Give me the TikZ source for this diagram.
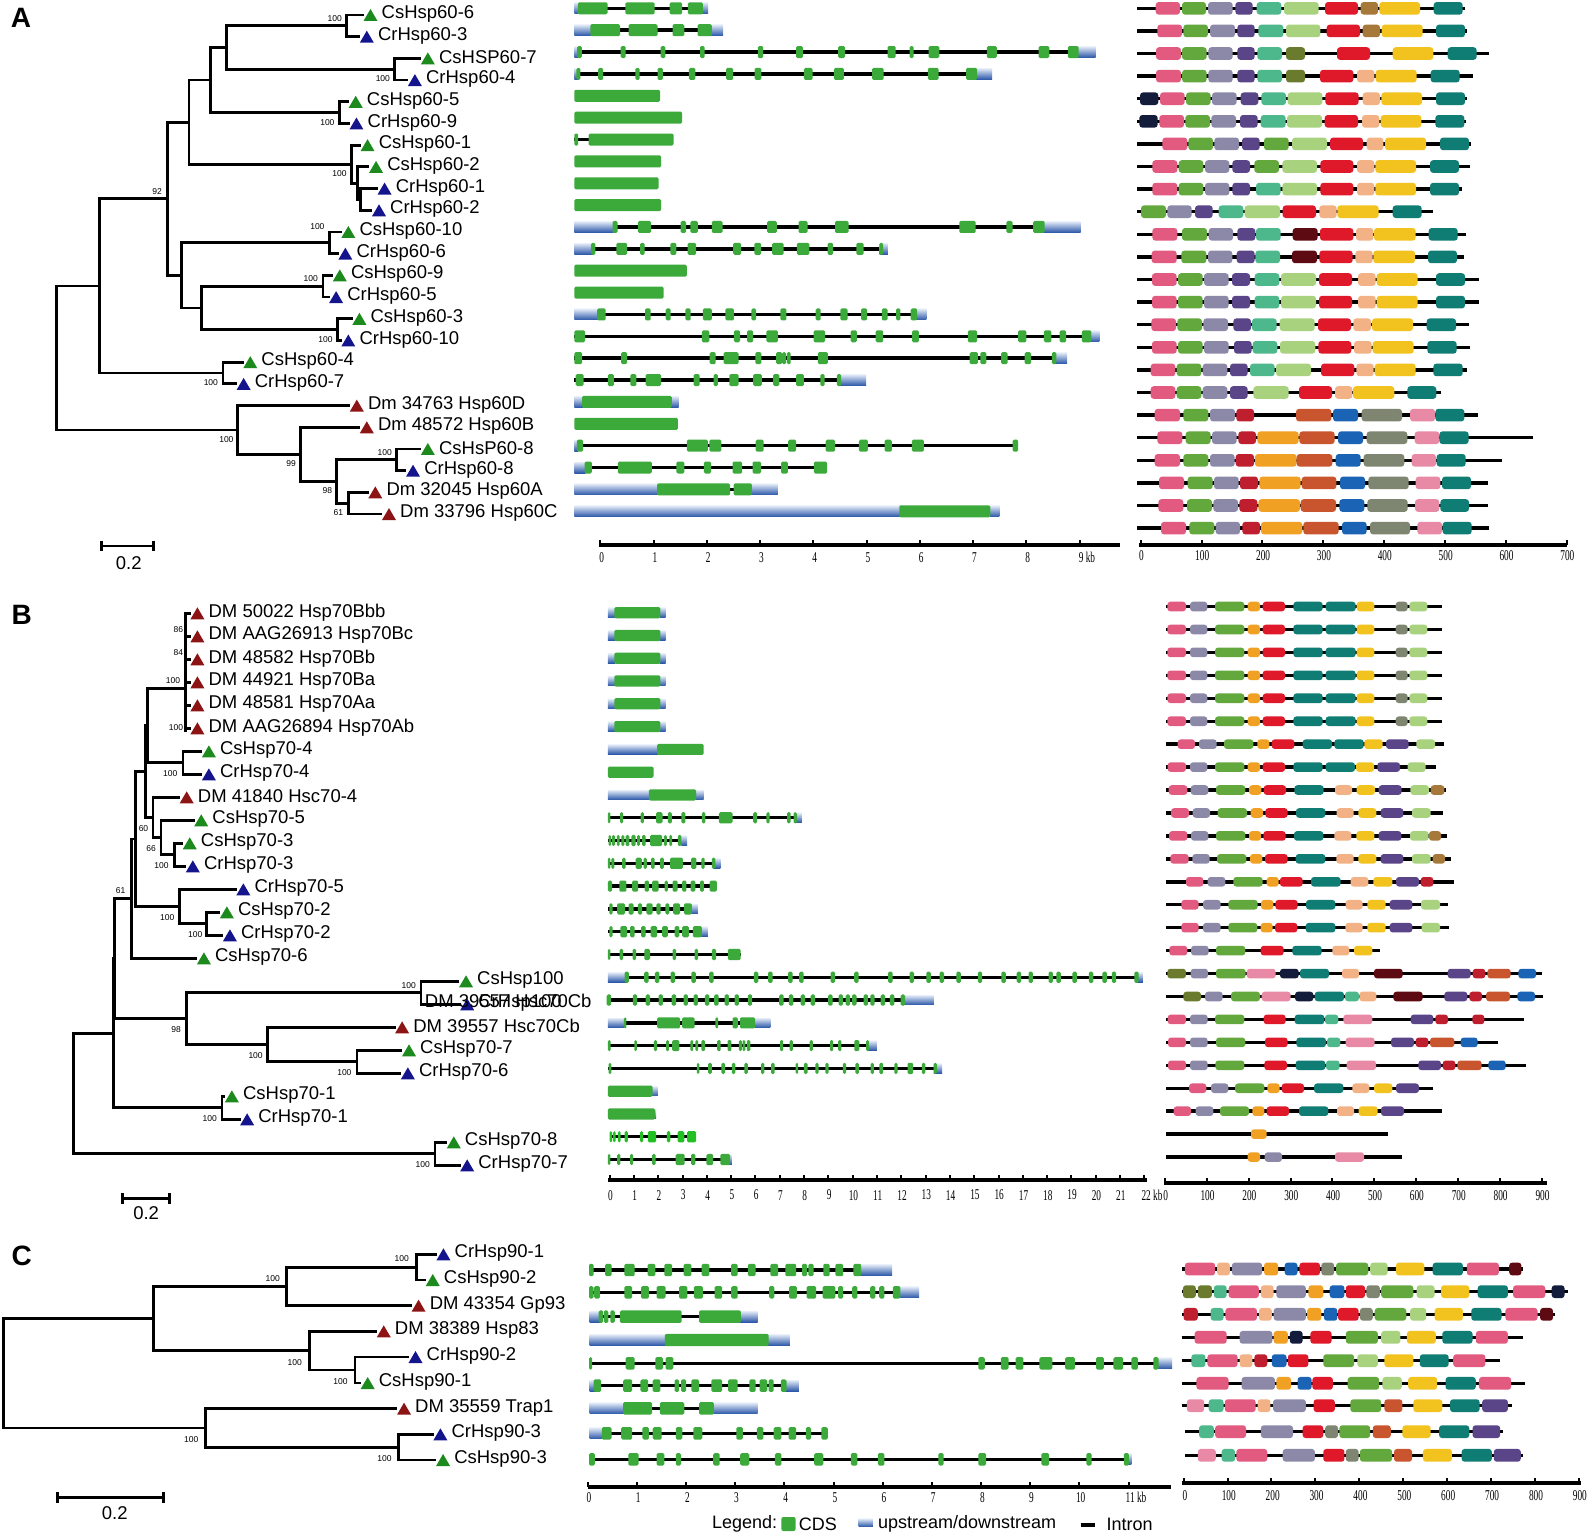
\documentclass[tikz,border=0pt]{standalone}
\usepackage{fontspec}
\setmainfont{Liberation Sans}
\newfontfamily\serifax{Liberation Serif}
\definecolor{tg}{HTML}{1C8A1C}
\definecolor{tb}{HTML}{14148C}
\definecolor{tr}{HTML}{8C1414}
\definecolor{exg}{HTML}{3BAA3B}
\definecolor{exb}{HTML}{22C022}
\definecolor{utrtop}{HTML}{E2EAF7}
\definecolor{utrbot}{HTML}{2A56A8}
\definecolor{cpk}{HTML}{E25A80}
\definecolor{cgn}{HTML}{62A83C}
\definecolor{cgy}{HTML}{8C89A8}
\definecolor{cpu}{HTML}{5A4589}
\definecolor{caq}{HTML}{4DB88C}
\definecolor{clg}{HTML}{A8D27E}
\definecolor{crd}{HTML}{E0192A}
\definecolor{cbn}{HTML}{A6783A}
\definecolor{cye}{HTML}{F2C31F}
\definecolor{ctl}{HTML}{0F7D73}
\definecolor{col}{HTML}{6A7B2E}
\definecolor{cpe}{HTML}{F2B285}
\definecolor{cnv}{HTML}{141C3C}
\definecolor{cmr}{HTML}{5E0A12}
\definecolor{ccr}{HTML}{BE1E2D}
\definecolor{cog}{HTML}{F0A022}
\definecolor{cru}{HTML}{C9552F}
\definecolor{cbl}{HTML}{1B63B5}
\definecolor{cgg}{HTML}{7E8570}
\definecolor{clp}{HTML}{E88AA6}
\newcommand\ax[1]{\scalebox{0.62}[1]{#1}}
\newcounter{bsn}
\tikzset{
  branch/.style={line width=2.8pt, line cap=rect, line join=miter},
  lab/.style={anchor=west, inner sep=0pt, font=\fontsize{18.5}{20}\selectfont},
  bs/.style={inner sep=0pt, font=\fontsize{8.5}{9}\selectfont},
  intr/.style={line width=3.4pt},
  exon/.style={fill=exg, rounded corners=1.4pt},
  utr/.style={top color=utrtop, bottom color=utrbot},
  mbox/.style={rounded corners=3pt},
  axline/.style={line width=4pt},
  tick/.style={line width=2pt},
  axl/.style={inner sep=0pt, font=\serifax\fontsize{15}{16}\selectfont},
  plab/.style={inner sep=0pt, font=\bfseries\fontsize{28}{30}\selectfont},
}
\newcommand\clade[5]{\draw[branch] (#2,#3) -- (#1,#3) -- (#1,#5) -- (#4,#5);}
\newcommand\leaf[5]{%
  \fill[#3] ([xshift=1pt,yshift=-6pt]#1,#2) -- ++(14pt,0pt) -- ++(-7pt,12pt) -- cycle;
  \node[lab] (#4) at ([xshift=19pt,yshift=1pt]#1,#2) {#5};}
\newcommand\bsl[3]{\stepcounter{bsn}\node[bs] (bs\arabic{bsn}) at (#1,#2) {#3};}
\newcommand\gl[3]{\draw[intr] (#2,#1) -- (#3,#1);}
\newcommand\ut[3]{\shade[utr] ([yshift=\uh]#2,#1) rectangle ([yshift=-\uh]#3,#1);}
\newcommand\exs[2]{\foreach \xa/\xb in {#2}{\path[exon] ([yshift=\eh]\xa,#1) rectangle ([yshift=-\eh]\xb,#1);}}
\newcommand\sxs[2]{\foreach \xc in {#2}{\path[exon] ([xshift=-2.2pt,yshift=\eh]\xc,#1) rectangle ([xshift=2.2pt,yshift=-\eh]\xc,#1);}}
\newcommand\mrow[4]{\draw[intr] (#2,#1) -- (#3,#1);
  \foreach \xa/\xb/\mc in {#4}{\path[fill=\mc,mbox] ([yshift=\mh]\xa,#1) rectangle ([yshift=-\mh]\xb,#1);}}
\begin{document}
\begin{tikzpicture}[x=1pt,y=-1pt]
\path[use as bounding box, fill=white] (0,0) rectangle (1589,1538);

%%%%%%%%%%%%%%%% TREE A
\begin{scope}[x=0.369898pt,y=-0.333333pt]
\node[plab] (pA) at (57,55) {A};
\clade{937}{980}{45}{970}{110.1}
\clade{1067}{1135}{175.2}{1100}{240.3}
\clade{613}{937}{77.6}{1067}{207.8}
\clade{918}{940}{305.4}{942}{370.5}
\clade{568}{613}{142.7}{918}{338}
\clade{975}{1018}{565.8}{1003}{630.9}
\clade{967}{995}{500.7}{975}{598.4}
\clade{950}{972}{435.6}{967}{549.5}
\clade{511}{568}{240.3}{950}{492.6}
\clade{890}{920}{696}{912}{761.1}
\clade{873}{897}{826.2}{887}{891.3}
\clade{912}{950}{956.4}{920}{1021.5}
\clade{545}{873}{858.7}{912}{989}
\clade{490}{890}{728.6}{545}{923.9}
\clade{453}{511}{366.4}{490}{826.2}
\clade{603}{655}{1086.6}{637}{1151.7}
\clade{268}{453}{596.3}{603}{1119.2}
\clade{1072}{1135}{1347}{1095}{1412.1}
\clade{942}{993}{1477.2}{1030}{1542.3}
\clade{910}{1072}{1379.6}{942}{1509.8}
\clade{812}{970}{1281.9}{910}{1444.7}
\clade{643}{943}{1216.8}{812}{1363.3}
\clade{153}{268}{857.8}{643}{1290}
\leaf{980}{45}{tg}{a0}{CsHsp60-6}
\leaf{970}{110.1}{tb}{a1}{CrHsp60-3}
\leaf{1135}{175.2}{tg}{a2}{CsHSP60-7}
\leaf{1100}{240.3}{tb}{a3}{CrHsp60-4}
\leaf{940}{305.4}{tg}{a4}{CsHsp60-5}
\leaf{942}{370.5}{tb}{a5}{CrHsp60-9}
\leaf{972}{435.6}{tg}{a6}{CsHsp60-1}
\leaf{995}{500.7}{tg}{a7}{CsHsp60-2}
\leaf{1018}{565.8}{tb}{a8}{CrHsp60-1}
\leaf{1003}{630.9}{tb}{a9}{CrHsp60-2}
\leaf{920}{696}{tg}{a10}{CsHsp60-10}
\leaf{912}{761.1}{tb}{a11}{CrHsp60-6}
\leaf{897}{826.2}{tg}{a12}{CsHsp60-9}
\leaf{887}{891.3}{tb}{a13}{CrHsp60-5}
\leaf{950}{956.4}{tg}{a14}{CsHsp60-3}
\leaf{920}{1021.5}{tb}{a15}{CrHsp60-10}
\leaf{655}{1086.6}{tg}{a16}{CsHsp60-4}
\leaf{637}{1151.7}{tb}{a17}{CrHsp60-7}
\leaf{943}{1216.8}{tr}{a18}{Dm 34763 Hsp60D}
\leaf{970}{1281.9}{tr}{a19}{Dm 48572 Hsp60B}
\leaf{1135}{1347}{tg}{a20}{CsHsP60-8}
\leaf{1095}{1412.1}{tb}{a21}{CrHsp60-8}
\leaf{993}{1477.2}{tr}{a22}{Dm 32045 Hsp60A}
\leaf{1030}{1542.3}{tr}{a23}{Dm 33796 Hsp60C}
\bsl{905}{55}{100}
\bsl{1035}{237}{100}
\bsl{885}{368}{100}
\bsl{918}{522}{100}
\bsl{425}{575}{92}
\bsl{858}{680}{100}
\bsl{840}{835}{100}
\bsl{880}{1018}{100}
\bsl{570}{1147}{100}
\bsl{612}{1320}{100}
\bsl{787}{1390}{99}
\bsl{1040}{1358}{100}
\bsl{885}{1473}{98}
\bsl{915}{1538}{61}
\draw[line width=2.5pt] (275,1638) -- (415,1638);
\draw[line width=2.5pt] (275,1622) -- (275,1654);
\draw[line width=2.5pt] (415,1622) -- (415,1654);
\node[lab, anchor=center] (sA) at (348,1688) {0.2};
\end{scope}

%%%%%%%%%%%%%%%% TREE B
\begin{scope}[yshift=-580pt,x=0.38265pt,y=-0.333333pt]
\node[plab] (pB) at (57,105) {B};
\draw[branch] (485,100) -- (485,452);
\foreach \yy in {100,169,238,307,376,445} {\draw[branch] (485,\yy) -- (495,\yy);}
\clade{386}{485}{325}{478}{548.5}
\clade{478}{525}{514}{525}{583}
\clade{457}{475}{790}{483}{859}
\clade{421}{505}{721}{457}{824.5}
\clade{400}{467}{652}{421}{772.8}
\clade{380}{386}{436.8}{400}{712.4}
\clade{540}{572}{997}{580}{1066}
\clade{470}{615}{928}{540}{1031.5}
\clade{355}{380}{574.6}{470}{979.8}
\clade{343}{355}{777.2}{512}{1135}
\clade{1100}{1197}{1204}{1200}{1273}
\clade{933}{1048}{1411}{1045}{1480}
\clade{700}{1030}{1342}{933}{1445.5}
\clade{487}{1100}{1238.5}{700}{1393.8}
\clade{300}{343}{956.1}{487}{1316}
\clade{580}{585}{1549}{625}{1618}
\clade{297}{300}{1136}{580}{1583.5}
\clade{1137}{1165}{1687}{1200}{1756}
\clade{193}{297}{1359.8}{1137}{1721.5}
\leaf{495}{100}{tr}{b0}{DM 50022 Hsp70Bbb}
\leaf{495}{169}{tr}{b1}{DM AAG26913 Hsp70Bc}
\leaf{495}{238}{tr}{b2}{DM 48582 Hsp70Bb}
\leaf{495}{307}{tr}{b3}{DM 44921 Hsp70Ba}
\leaf{495}{376}{tr}{b4}{DM 48581 Hsp70Aa}
\leaf{495}{445}{tr}{b5}{DM AAG26894 Hsp70Ab}
\leaf{525}{514}{tg}{b6}{CsHsp70-4}
\leaf{525}{583}{tb}{b7}{CrHsp70-4}
\leaf{467}{652}{tr}{b8}{DM 41840 Hsc70-4}
\leaf{505}{721}{tg}{b9}{CsHsp70-5}
\leaf{475}{790}{tg}{b10}{CsHsp70-3}
\leaf{483}{859}{tb}{b11}{CrHsp70-3}
\leaf{615}{928}{tb}{b12}{CrHsp70-5}
\leaf{572}{997}{tg}{b13}{CsHsp70-2}
\leaf{580}{1066}{tb}{b14}{CrHsp70-2}
\leaf{512}{1135}{tg}{b15}{CsHsp70-6}
\leaf{1197}{1204}{tg}{b16}{CsHsp100}
\leaf{1200}{1273}{tb}{b17}{CrHsp100}
\node[lab] (b17x) at (1110,1262) {DM 39557 Hsc70Cb};
\leaf{1030}{1342}{tr}{b18}{DM 39557 Hsc70Cb}
\leaf{1048}{1411}{tg}{b19}{CsHsp70-7}
\leaf{1045}{1480}{tb}{b20}{CrHsp70-6}
\leaf{585}{1549}{tg}{b21}{CsHsp70-1}
\leaf{625}{1618}{tb}{b22}{CrHsp70-1}
\leaf{1165}{1687}{tg}{b23}{CsHsp70-8}
\leaf{1200}{1756}{tb}{b24}{CrHsp70-7}
\bsl{466}{148}{86}
\bsl{466}{217}{84}
\bsl{452}{303}{100}
\bsl{460}{442}{100}
\bsl{445}{582}{100}
\bsl{375}{745}{60}
\bsl{395}{805}{66}
\bsl{422}{857}{100}
\bsl{315}{933}{61}
\bsl{437}{1013}{100}
\bsl{510}{1065}{100}
\bsl{1068}{1217}{100}
\bsl{460}{1348}{98}
\bsl{668}{1428}{100}
\bsl{900}{1478}{100}
\bsl{548}{1615}{100}
\bsl{1105}{1753}{100}
\draw[line width=2.5pt] (320,1855) -- (443,1855);
\draw[line width=2.5pt] (320,1839) -- (320,1871);
\draw[line width=2.5pt] (443,1839) -- (443,1871);
\node[lab, anchor=center] (sB) at (382,1900) {0.2};
\end{scope}

%%%%%%%%%%%%%%%% TREE C
\begin{scope}[yshift=-1220pt,x=0.38265pt,y=-0.333333pt]
\node[plab] (pC) at (57,108) {C};
\clade{1088}{1138}{103}{1110}{180}
\clade{748}{1088}{141.5}{1073}{257}
\clade{928}{1065}{411}{940}{489}
\clade{808}{982}{334}{928}{450}
\clade{402}{748}{199}{808}{392}
\clade{1042}{1130}{643}{1137}{720}
\clade{538}{1035}{566}{1042}{681.5}
\clade{10}{402}{295.5}{538}{623.8}
\leaf{1138}{103}{tb}{c0}{CrHsp90-1}
\leaf{1110}{180}{tg}{c1}{CsHsp90-2}
\leaf{1073}{257}{tr}{c2}{DM 43354 Gp93}
\leaf{982}{334}{tr}{c3}{DM 38389 Hsp83}
\leaf{1065}{411}{tb}{c4}{CrHsp90-2}
\leaf{940}{489}{tg}{c5}{CsHsp90-1}
\leaf{1035}{566}{tr}{c6}{DM 35559 Trap1}
\leaf{1130}{643}{tb}{c7}{CrHsp90-3}
\leaf{1137}{720}{tg}{c8}{CsHsp90-3}
\bsl{1050}{117}{100}
\bsl{713}{175}{100}
\bsl{770}{427}{100}
\bsl{890}{485}{100}
\bsl{500}{658}{100}
\bsl{1005}{715}{100}
\draw[line width=2.5pt] (150,833) -- (427,833);
\draw[line width=2.5pt] (150,817) -- (150,849);
\draw[line width=2.5pt] (427,817) -- (427,849);
\node[lab, anchor=center] (sC) at (300,878) {0.2};
\end{scope}

%%%%%%%%%%%%%%%% GENES A
\begin{scope}[xshift=560pt,x=0.357143pt,y=-0.333333pt]
\def\eh{6pt}\def\uh{5.5pt}
\gl{25}{40}{415}\ut{25}{40}{52}\ut{25}{398}{415}\exs{25}{50/133,183/265,307/342,358/400}
\gl{90.6}{40}{457}\ut{90.6}{40}{88}\ut{90.6}{422}{457}\exs{90.6}{85/168,192/273,315/348,385/425}
\gl{156.2}{40}{1500}\ut{156.2}{40}{55}\ut{156.2}{1448}{1500}\exs{156.2}{48/61,170/184,282/295,392/405,554/569,661/680,779/798,917/940,979/990,1032/1062,1195/1223,1340/1370,1422/1452}
\gl{221.8}{40}{1210}\ut{221.8}{40}{50}\ut{221.8}{1165}{1210}\exs{221.8}{46/57,107/121,211/223,273/288,361/379,465/485,545/564,683/707,767/795,874/906,1030/1060,1137/1168}
\exs{287.4}{40/280}
\exs{353}{40/342}
\gl{418.6}{40}{80}\exs{418.6}{40/51,80/318}
\exs{484.2}{40/283}
\exs{549.8}{40/276}
\exs{615.4}{40/283}
\gl{681}{40}{1458}\ut{681}{40}{150}\ut{681}{1352}{1458}\exs{681}{147/161,218/255,338/353,365/386,425/455,580/607,668/693,770/808,1118/1164,1250/1267,1325/1357}
\gl{746.6}{40}{918}\ut{746.6}{40}{92}\ut{746.6}{895}{918}\exs{746.6}{87/99,158/188,224/237,309/326,357/381,485/507,544/563,594/626,663/698,749/765,830/850,894/905}
\exs{812.2}{40/355}
\exs{877.8}{40/290}
\gl{943.4}{40}{1026}\ut{943.4}{40}{108}\ut{943.4}{995}{1026}\exs{943.4}{104/128,238/254,296/310,351/366,400/425,463/487,536/549,617/634,716/730,785/805,843/860,901/917,941/953,982/1000}
\gl{1009}{40}{1510}\ut{1009}{1485}{1510}\exs{1009}{40/70,397/418,487/504,524/541,578/610,710/742,814/831,884/905,986/1005,1142/1168,1283/1306,1355/1376,1399/1417,1461/1488}
\gl{1074.6}{40}{1420}\ut{1074.6}{1385}{1420}\exs{1074.6}{40/62,171/188,419/436,458/500,547/564,605/622,622/633,635/646,722/750,1147/1170,1177/1194,1235/1253,1301/1319,1377/1390}
\gl{1140.2}{40}{857}\ut{1140.2}{780}{857}\exs{1140.2}{44/66,134/151,197/214,240/283,374/391,430/442,474/500,541/565,597/614,661/683,729/741,775/787}
\ut{1205.8}{40}{65}\ut{1205.8}{308}{332}\exs{1205.8}{62/313}
\exs{1271.4}{40/330}
\gl{1337}{40}{1283}\ut{1337}{40}{50}\exs{1337}{47/65,355/414,418/452,548/570,639/661,744/770,837/862,909/929,985/1019,1267/1283}
\gl{1402.6}{40}{748}\ut{1402.6}{40}{72}\exs{1402.6}{69/89,162/257,326/348,403/423,483/510,539/563,619/638,711/748}
\ut{1468.2}{40}{275}\ut{1468.2}{535}{610}\gl{1468.2}{470}{490}\exs{1468.2}{272/476,486/537}
\ut{1533.8}{40}{952}\ut{1533.8}{1203}{1230}\exs{1533.8}{950/1205}
\draw[axline] (110,1635) -- (1568,1635);
\foreach \k in {0,...,9} {\draw[tick] (113+149.1*\k,1635) -- ([yshift=5pt]113+149.1*\k,1635);}
\foreach \k in {0,...,8} {\node[axl] at (117+149.1*\k,1672) {\ax{\k}};}
\node[axl, anchor=west] (kbA) at (1452,1672) {\ax{9 kb}};
\end{scope}

%%%%%%%%%%%%%%%% MOTIFS A
\begin{scope}[xshift=1120pt,x=0.333333pt,y=-0.333333pt]
\def\mh{6.3pt}
\mrow{25}{52}{1035}{107/180/cpk,186/258/cgn,264/338/cgy,346/398/cpu,410/484/caq,492/596/clg,615/714/crd,722/774/cbn,778/900/cye,941/1028/ctl}
\mrow{92.8}{52}{1042}{112/186/cpk,190/264/cgn,270/345/cgy,352/404/cpu,415/490/caq,498/601/clg,620/720/crd,728/780/cbn,785/908/cye,948/1035/ctl}
\mrow{160.6}{52}{1108}{108/183/cpk,186/260/cgn,265/338/cgy,352/404/cpu,412/486/caq,498/555/col,651/750/crd,818/940/cye,983/1070/ctl}
\mrow{228.4}{52}{1058}{108/183/cpk,186/260/cgn,265/338/cgy,352/404/cpu,412/486/caq,498/555/col,600/700/crd,711/763/cpe,767/890/cye,932/1019/ctl}
\mrow{296.2}{52}{1040}{60/115/cnv,120/194/cpk,198/272/cgn,276/350/cgy,362/415/cpu,424/498/caq,503/607/clg,616/716/crd,728/780/cpe,784/906/cye,948/1035/ctl}
\mrow{364}{52}{1038}{58/113/cnv,118/192/cpk,196/270/cgn,274/348/cgy,360/413/cpu,422/497/caq,501/606/clg,614/714/crd,726/778/cpe,782/904/cye,946/1033/ctl}
\mrow{431.8}{52}{1053}{127/202/cpk,205/279/cgn,283/357/cgy,366/419/cpu,432/506/cgn,516/621/clg,630/729/crd,740/790/cpe,795/918/cye,960/1047/ctl}
\mrow{499.6}{52}{1050}{97/172/cpk,176/250/cgn,255/328/cgy,337/390/cpu,403/477/cgn,487/591/clg,601/700/crd,711/763/cpe,766/888/cye,930/1017/ctl}
\mrow{567.4}{52}{1025}{97/172/cpk,176/250/cgn,255/328/cgy,337/390/cpu,408/482/caq,487/591/clg,601/700/crd,711/763/cpe,766/888/cye,930/1017/ctl}
\mrow{635.2}{52}{940}{63/138/cgn,142/215/cgy,225/278/cpu,296/370/caq,374/480/clg,488/588/crd,598/650/cpe,652/776/cye,818/905/ctl}
\mrow{703}{52}{1037}{97/172/cpk,186/261/cgn,266/339/cgy,352/406/cpu,408/482/caq,518/593/cmr,600/700/crd,708/760/cpe,762/887/cye,926/1013/ctl}
\mrow{770.8}{52}{1033}{95/170/cpk,184/259/cgn,264/337/cgy,350/404/cpu,406/480/caq,516/591/cmr,598/698/crd,706/758/cpe,760/885/cye,924/1011/ctl}
\mrow{838.6}{52}{1077}{96/170/cpk,174/248/cgn,252/326/cgy,336/390/cpu,404/478/caq,483/588/clg,597/696/crd,714/767/cpe,770/893/cye,948/1035/ctl}
\mrow{906.4}{52}{1077}{96/170/cpk,174/248/cgn,252/326/cgy,336/390/cpu,404/478/caq,483/588/clg,597/696/crd,714/767/cpe,770/893/cye,948/1035/ctl}
\mrow{974.2}{52}{1047}{94/168/cpk,172/246/cgn,250/324/cgy,340/393/cpu,396/470/caq,479/584/clg,594/693/crd,700/753/cpe,756/879/cye,920/1008/ctl}
\mrow{1042}{52}{1050}{96/170/cpk,174/248/cgn,252/326/cgy,342/395/cpu,398/472/caq,480/586/clg,595/694/crd,702/755/cpe,758/881/cye,922/1010/ctl}
\mrow{1109.8}{52}{1042}{92/166/cpk,170/244/cgn,248/322/cgy,330/383/cpu,390/464/caq,468/573/clg,603/703/crd,709/761/cpe,764/887/cye,940/1028/ctl}
\mrow{1177.6}{52}{964}{92/166/cpk,170/244/cgn,248/322/cgy,330/383/cpu,400/506/clg,537/636/crd,645/697/cpe,699/823/cye,862/949/ctl}
\mrow{1245.4}{52}{1075}{104/180/cpk,190/265/cgn,270/345/cgy,349/402/ccr,528/634/cru,639/714/cbl,725/846/cgg,870/945/clp,946/1033/ctl}
\mrow{1313.2}{52}{1238}{112/187/cpk,197/272/cgn,276/350/cgy,355/408/ccr,412/536/cog,538/644/cru,654/729/cbl,740/862/cgg,884/958/clp,958/1046/ctl}
\mrow{1381}{52}{1146}{104/180/cpk,190/265/cgn,270/344/cgy,347/402/ccr,405/530/cog,530/637/cru,647/722/cbl,731/853/cgg,875/948/clp,950/1037/ctl}
\mrow{1448.8}{52}{1104}{117/192/cpk,203/278/cgn,282/356/cgy,360/414/ccr,418/542/cog,545/649/cru,660/735/cbl,745/866/cgg,887/961/clp,966/1053/ctl}
\mrow{1516.6}{52}{1103}{115/190/cpk,201/276/cgn,280/354/cgy,358/412/ccr,415/540/cog,542/648/cru,658/733/cbl,742/863/cgg,885/958/clp,961/1047/ctl}
\mrow{1584.4}{52}{1108}{123/198/cpk,208/283/cgn,287/360/cgy,367/420/ccr,423/547/cog,550/656/cru,666/740/cbl,750/870/cgg,892/966/clp,968/1055/ctl}
\draw[axline] (58,1635) -- (1340,1635);
\foreach \k/\t in {0/0,1/100,2/200,3/300,4/400,5/500,6/600,7/700} {
  \draw[tick] (62+182.6*\k,1635) -- ([yshift=5pt]62+182.6*\k,1635);
  \node[axl] at (64+182.6*\k,1667) {\ax{\t}};}
\end{scope}

%%%%%%%%%%%%%%%% GENES B
\begin{scope}[xshift=590pt,yshift=-580pt,x=0.357143pt,y=-0.408163pt]
\def\eh{5.6pt}\def\uh{4.8pt}
\foreach \yy in {80,135.8,191.7,247.5,303.3,359.2} {\ut{\yy}{50}{70}\ut{\yy}{195}{212}\exs{\yy}{68/197}}
\ut{415}{50}{190}\exs{415}{188/318}
\exs{470.8}{50/178}
\ut{526.6}{50}{167}\ut{526.6}{295}{318}\exs{526.6}{165/297}
\gl{582.5}{50}{593}\ut{582.5}{573}{593}\exs{582.5}{50/57,84/93,142/151,185/203,218/229,256/267,313/323,361/399,457/468,494/503,552/562,570/579}
\gl{638.3}{50}{272}\ut{638.3}{256}{272}\exs{638.3}{52/59,62/70,75/83,88/96,100/110,116/128,132/140,146/156,168/202,207/215,222/230,246/256}
\gl{694.1}{50}{365}\ut{694.1}{346}{365}\exs{694.1}{50/57,60/68,90/100,128/145,150/159,171/181,196/207,224/260,283/298,312/321,341/351}
\gl{750}{50}{355}\exs{750}{50/62,82/102,118/135,153/165,174/192,209/218,231/245,258/270,282/295,308/319,335/355}
\gl{805.8}{50}{302}\ut{805.8}{283}{302}\exs{805.8}{54/63,76/98,108/122,134/146,158/175,186/198,211/222,233/252,263/285}
\gl{861.6}{50}{330}\ut{861.6}{311}{330}\exs{861.6}{54/63,85/104,112/125,143/156,170/188,202/218,237/250,258/277,288/313}
\gl{917.5}{50}{422}\exs{917.5}{50/57,83/93,119/129,152/168,231/241,293/303,341/353,386/422}
\gl{973.3}{50}{1548}\ut{973.3}{50}{103}\ut{973.3}{1530}{1548}\sxs{973.3}{103,158,188,232,290,340,465,505,561,592,680,746,841,901,948,985,1032,1092,1158,1201,1234,1290,1312,1357,1403,1441,1467,1530}
\gl{1029.1}{50}{963}\ut{1029.1}{876}{963}\sxs{1029.1}{53,126,162,198,235,268,296,328,354,383,411,448,536,563,596,624,673,702,722,740,772,791,820,846,876}
\gl{1085}{95}{505}\ut{1085}{50}{97}\ut{1085}{460}{505}\exs{1085}{95/102,188/252,258/293,351/359,399/414,420/462}
\gl{1140.8}{50}{803}\ut{1140.8}{776}{803}\exs{1140.8}{50/58,124/131,179/188,213/221,230/250,281/289,295/303,312/322,356/366,385/396,417/425,427/435,439/449,532/541,559/568,615/624,672/681,695/704,740/754,773/781}
\gl{1196.6}{50}{986}\ut{1196.6}{963}{986}\exs{1196.6}{52/60,299/306,331/341,368/378,397/407,432/442,479/488,507/517,576/583,599/609,631/640,659/668,708/717,743/753,786/795,810/821,852/861,889/905,929/939,962/971}
\ut{1252.4}{173}{190}\exs{1252.4}{50/175}
\ut{1308.3}{178}{185}\exs{1308.3}{50/182}
\gl{1364.1}{55}{297}
\begin{scope}[exon/.style={fill=exb, rounded corners=1.4pt}]
\exs{1364.1}{55/62,65/72,78/86,97/106,140/149,162/185,215/225,245/264,272/297}
\end{scope}
\gl{1419.9}{50}{397}\ut{1419.9}{388}{397}\exs{1419.9}{50/57,76/85,112/121,174/184,240/265,283/295,326/345,365/392}
\draw[axline] (50,1470) -- (1560,1470);
\foreach \k in {0,...,22} {\draw[tick] (55+68.05*\k,1470) -- ([yshift=5pt]55+68.05*\k,1470);}
\foreach \k in {0,...,21} {\node[axl] at (57+68.05*\k,1507) {\ax{\k}};}
\node[axl, anchor=west] (kbB) at ([xshift=-3pt]1552,1507) {\ax{22 kb}};
\end{scope}

%%%%%%%%%%%%%%%% MOTIFS B
\begin{scope}[xshift=1140pt,yshift=-580pt,x=0.333333pt,y=-0.408163pt]
\def\mh{4.8pt}
\foreach \yy in {65,121.2,177.4,233.6,289.8,346} {\mrow{\yy}{78}{905}{82/138/cpk,150/202/cgy,225/313/cgn,323/360/cog,368/435/crd,460/548/ctl,557/647/ctl,650/703/cye,767/803/cgg,808/862/clg}}
\mrow{402.2}{78}{912}{113/165/cpk,177/230/cgy,252/340/cgn,352/388/cog,395/463/crd,488/576/ctl,583/671/ctl,673/728/cye,738/806/cpu,829/885/clg}
\mrow{458.4}{78}{887}{83/138/cpk,150/202/cgy,225/313/cgn,323/360/cog,368/435/crd,460/548/ctl,557/645/ctl,648/702/cye,712/780/cpu,803/857/clg}
\mrow{514.6}{78}{917}{86/142/cpk,152/205/cgy,228/316/cgn,327/364/cog,371/438/crd,463/551/ctl,585/636/cpe,650/705/cye,716/785/cpu,811/867/clg,872/913/cbn}
\mrow{570.8}{78}{908}{93/147/cpk,158/210/cgy,233/321/cgn,332/369/cog,376/443/crd,468/556/ctl,590/641/cpe,655/709/cye,722/790/cpu,816/872/clg}
\mrow{627}{78}{922}{87/142/cpk,153/205/cgy,228/316/cgn,327/363/cog,370/437/crd,462/550/ctl,583/634/cpe,649/703/cye,716/784/cpu,810/866/clg,867/903/cbn}
\mrow{683.2}{78}{933}{91/146/cpk,157/209/cgy,231/319/cgn,330/367/cog,375/443/crd,467/556/ctl,589/641/cpe,655/709/cye,722/790/cpu,816/872/clg,878/915/cbn}
\mrow{739.4}{78}{942}{138/190/cpk,203/256/cgy,280/368/cgn,380/416/cog,420/488/crd,513/602/ctl,632/685/cpe,700/757/cye,768/837/cpu,842/880/ccr}
\mrow{795.6}{78}{925}{124/176/cpk,189/242/cgy,265/353/cgn,363/400/cog,406/473/crd,498/586/ctl,617/668/cpe,682/737/cye,749/817/cpu,843/900/clg}
\mrow{851.8}{78}{928}{124/176/cpk,189/242/cgy,265/352/cgn,362/398/cog,405/472/crd,497/586/ctl,616/668/cpe,682/737/cye,749/817/cpu,845/900/clg}
\mrow{908}{78}{720}{88/142/cpk,153/206/cgy,228/316/cgn,362/431/crd,457/545/ctl,577/628/cpe,642/697/cye}
\mrow{964.2}{78}{1205}{82/138/col,152/204/cgy,228/317/cgn,320/407/clp,420/476/cnv,480/567/ctl,606/657/cpe,702/788/cmr,923/992/cpu,998/1036/ccr,1042/1112/cru,1135/1188/cbl}
\mrow{1020.4}{78}{1208}{130/183/col,195/248/cgy,273/360/cgn,365/452/clp,465/520/cnv,524/612/ctl,615/657/caq,658/709/cpe,760/848/cmr,913/982/cpu,988/1026/ccr,1038/1110/cru,1132/1185/cbl}
\mrow{1076.6}{78}{1152}{83/138/cpk,150/203/cgy,225/313/cgn,371/437/crd,464/553/ctl,555/595/caq,610/697/clp,812/880/cpu,886/924/ccr,997/1033/ccr}
\mrow{1132.8}{78}{1075}{84/138/cpk,150/203/cgy,228/316/cgn,375/443/crd,469/558/ctl,561/601/caq,617/704/clp,753/822/cpu,827/865/ccr,870/943/cru,962/1013/cbl}
\mrow{1189}{78}{1157}{84/138/cpk,150/203/cgy,226/313/cgn,373/441/crd,467/556/ctl,558/599/caq,620/708/clp,835/903/cpu,908/946/ccr,952/1025/cru,1045/1097/cbl}
\mrow{1245.2}{78}{880}{147/199/cpk,213/265/cgy,285/373/cgn,382/419/cog,425/492/crd,522/610/ctl,637/688/cpe,702/757/cye,768/837/cpu}
\mrow{1301.4}{78}{907}{101/153/cpk,167/220/cgy,240/327/cgn,337/373/cog,380/447/crd,477/565/ctl,591/642/cpe,656/713/cye,723/792/cpu}
\mrow{1357.6}{78}{745}{333/380/cog}
\mrow{1413.8}{78}{785}{323/360/cog,374/426/cgy,585/672/clp}
\draw[axline] (72,1478) -- (1222,1478);
\foreach \k/\t in {0/0,1/100,2/200,3/300,4/400,5/500,6/600,7/700,8/800,9/900} {
  \draw[tick] (75+125.6*\k,1478) -- ([yshift=5pt]75+125.6*\k,1478);
  \node[axl] at (77+125.6*\k,1507) {\ax{\t}};}
\end{scope}

%%%%%%%%%%%%%%%% GENES + MOTIFS C
\begin{scope}[xshift=580pt,yshift=-1220pt,x=0.643495pt,y=-0.333333pt]
\def\eh{6.2pt}\def\uh{5.5pt}\def\mh{6.4pt}
\gl{150}{15}{485}\ut{150}{430}{485}\exs{150}{14/21,39/49,69/85,105/117,131/143,161/173,189/201,235/245,261/273,296/308,319/336,345/353,355/363,378/388,397/409,425/437}
\gl{217}{15}{527}\ut{217}{493}{527}\exs{217}{14/21,22/31,69/81,95/107,119/133,154/167,177/191,209/221,235/245,294/302,325/337,352/367,377/397,401/409,423/431,451/459,465/473,486/498}
\ut{290}{15}{32}\ut{290}{248}{276}\gl{290}{30}{250}\exs{290}{29/36,37/44,47/54,62/158,185/250}
\ut{360}{15}{135}\ut{360}{290}{326}\exs{360}{132/293}
\gl{430}{15}{920}\ut{430}{896}{920}\exs{430}{14/19,71/85,117/129,133/145,619/629,654/666,677/689,714/734,754/769,802/814,829/844,857/867,891/899}
\gl{497}{15}{340}\ut{497}{15}{24}\ut{497}{316}{340}\exs{497}{21/33,67/81,94/106,113/125,147/154,157/165,173/185,204/221,230/245,263/273,279/291,293/301,312/321}
\ut{565}{15}{70}\ut{565}{203}{276}\gl{565}{110}{190}\exs{565}{67/112,124/162,185/208}
\gl{640}{15}{384}\ut{640}{15}{37}\exs{640}{34/49,64/81,97/107,113/127,149/159,176/190,243/253,275/285,301/313,324/336,351/359,375/385}
\gl{718}{15}{857}\ut{718}{849}{857}\exs{718}{14/23,75/91,119/131,149/157,207/217,249/263,303/313,364/378,421/431,463/473,557/565,619/631,717/729,787/795,845/853}
\draw[axline] (12,800) -- (918,800);
\foreach \k in {0,...,11} {\draw[tick] (12+76.4*\k,800) -- ([yshift=5pt]12+76.4*\k,800);}
\foreach \k in {0,...,10} {\node[axl] at (14+76.4*\k,832) {\ax{\k}};}
\node[axl, anchor=west] (kbC) at ([xshift=-3pt]852.4,832) {\ax{11 kb}};
\mrow{147}{935}{1465}{940/987/cpk,990/1010/cpe,1013/1060/cgy,1063/1085/cog,1095/1115/cbl,1118/1150/crd,1152/1172/cgg,1175/1225/cgn,1228/1255/clg,1268/1312/cye,1325/1372/ctl,1378/1428/cpk,1444/1463/cmr}
\mrow{215}{935}{1535}{937/957/col,960/982/col,985/1005/caq,1008/1055/cpk,1058/1078/cpe,1082/1128/cgy,1132/1155/cog,1165/1188/cbl,1190/1220/crd,1222/1243/cgg,1245/1295/cgn,1300/1328/clg,1338/1382/cye,1395/1442/ctl,1450/1500/cpk,1510/1530/cnv}
\mrow{283}{935}{1515}{938/960/ccr,980/1000/caq,1003/1052/cpk,1055/1075/cpe,1078/1128/cgy,1130/1152/cog,1156/1177/cbl,1178/1210/crd,1212/1232/cgg,1235/1284/cgn,1290/1315/clg,1328/1372/cye,1385/1432/ctl,1438/1488/cpk,1492/1512/cmr}
\mrow{352}{935}{1465}{955/1005/cpk,1025/1076/cgy,1078/1100/cog,1103/1123/cnv,1135/1168/crd,1190/1240/cgn,1245/1275/clg,1285/1330/cye,1340/1387/ctl,1392/1442/cpk}
\mrow{422}{935}{1430}{950/972/caq,975/1022/cpk,1025/1045/cpe,1048/1068/ccr,1075/1098/cbl,1100/1132/crd,1155/1203/cgn,1208/1240/clg,1250/1295/cye,1305/1350/ctl,1357/1407/cpk}
\mrow{490}{935}{1468}{958/1008/cpk,1028/1080/cgy,1082/1105/cog,1115/1137/cbl,1138/1170/crd,1193/1242/cgn,1247/1277/clg,1287/1332/cye,1345/1392/ctl,1397/1447/cpk}
\mrow{557}{935}{1448}{943/970/clp,977/1000/caq,1002/1050/cpk,1053/1073/cpe,1077/1128/cgy,1140/1173/crd,1197/1245/cgn,1250/1278/cru,1295/1340/cye,1352/1398/ctl,1402/1442/cpu}
\mrow{635}{940}{1435}{962/985/caq,987/1035/cpk,1058/1108/cgy,1123/1155/crd,1158/1178/cgg,1180/1228/cgn,1232/1260/cru,1278/1322/cye,1335/1382/ctl,1387/1430/cpu}
\mrow{706}{940}{1465}{960/988/clp,997/1018/caq,1020/1068/cpk,1092/1142/cgy,1155/1188/crd,1190/1210/cgg,1212/1262/cgn,1265/1293/cru,1310/1355/cye,1370/1417/ctl,1420/1462/cpu}
\draw[axline] (935,790) -- (1555,790);
\foreach \k/\t in {0/0,1/100,2/200,3/300,4/400,5/500,6/600,7/700,8/800,9/900} {
  \draw[tick] (938+68.2*\k,790) -- ([yshift=5pt]938+68.2*\k,790);
  \node[axl] at (940+68.2*\k,827) {\ax{\t}};}
% legend
\node[lab, font=\fontsize{18}{20}\selectfont] (lg1) at (205,912) {Legend:};
\path[fill=exg, rounded corners=2pt] ([yshift=7pt]313,912) rectangle ([yshift=-7pt]335,912);
\node[lab, font=\fontsize{18}{20}\selectfont] (lg2) at (340,912) {CDS};
\shade[utr] ([yshift=4pt]433,908) rectangle ([yshift=-4pt]455,908);
\node[lab, font=\fontsize{18}{20}\selectfont] (lg3) at (463,912) {upstream/downstream};
\draw[line width=3.3pt] (778,915) -- (800,915);
\node[lab, font=\fontsize{18}{20}\selectfont] (lg4) at (818,912) {Intron};
\end{scope}
\end{tikzpicture}
\end{document}
